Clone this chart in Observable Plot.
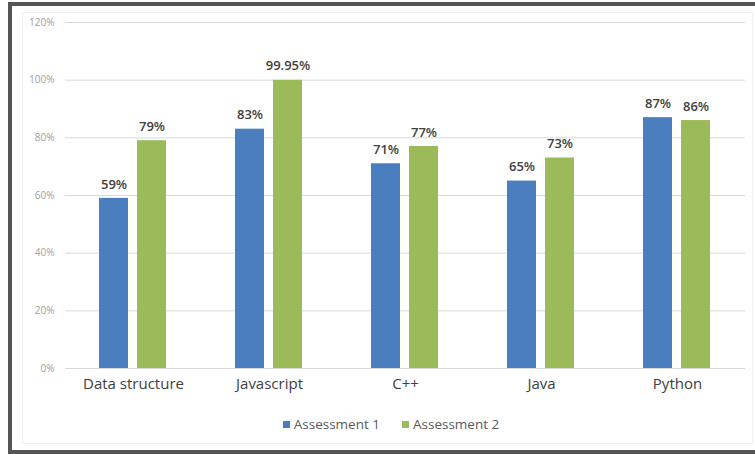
<!DOCTYPE html>
<html>
<head>
<meta charset="utf-8">
<script src="https://cdn.jsdelivr.net/npm/d3@7"></script>
<script src="https://cdn.jsdelivr.net/npm/@observablehq/plot@0.6"></script>
<style>
  html, body { margin: 0; padding: 0; background: #fff; overflow: hidden; }
  #wrap { position: relative; width: 755px; height: 454px; overflow: hidden; font-family: "Open Sans", sans-serif; }
  #frame { position: absolute; left: 8px; top: 2px; width: 800px; height: 452px; box-sizing: border-box;
           border-left: 4px solid #555; border-top: 4px solid #555; border-bottom: 4px solid #555; }
  #inner { position: absolute; left: 22px; top: 12px; width: 731px; height: 432px; box-sizing: border-box; border: 1px solid #f0f0f0; }
  #chart { position: absolute; left: 0; top: 0; }
  #legend { position: absolute; left: 0; top: 415px; width: 782px; display: flex; justify-content: center; gap: 22px;
            font-size: 13.5px; color: #595959; }
  .item { display: flex; align-items: center; gap: 4px; }
  .sw { width: 7px; height: 7px; display: inline-block; }
</style>
</head>
<body>
<div id="wrap">
  <div id="frame"></div>
  <div id="inner"></div>
  <div id="chart"></div>
  <div id="legend"></div>
</div>
<script>
const categories = ["Data structure", "Javascript", "C++", "Java", "Python"];
const seriesNames = ["Assessment 1", "Assessment 2"];
const assessment1 = [59, 83, 71, 65, 87];
const assessment2 = [79, 99.95, 77, 73, 86];
const yTicks = [0, 20, 40, 60, 80, 100, 120];
const colors = ["#4a7ebf", "#9bbb59"];

const data = [];
categories.forEach((c, i) => {
  data.push({category: c, series: seriesNames[0], value: assessment1[i]});
  data.push({category: c, series: seriesNames[1], value: assessment2[i]});
});

const chart = Plot.plot({
  width: 755,
  height: 400,
  marginLeft: 64,
  marginRight: 9,
  marginTop: 22,
  marginBottom: 32,
  style: {fontFamily: "Open Sans, sans-serif", background: "transparent"},
  fx: {domain: categories, padding: 0, label: null},
  x: {domain: seriesNames, paddingInner: 0.2308, paddingOuter: 0.864, axis: null},
  y: {domain: [0, 120], label: null},
  color: {domain: seriesNames, range: colors},
  marks: [
    Plot.gridY(yTicks, {stroke: "#d9d9d9", strokeOpacity: 1}),
    Plot.axisY(yTicks, {tickSize: 0, tickPadding: 11, tickFormat: d => d + "%", fontSize: 10, fill: "#a0a0a0", label: null}),
    Plot.axisFx({anchor: "bottom", tickSize: 0, tickPadding: 10, fontSize: 15, fill: "#404040", label: null}),
    Plot.barY(data, {fx: "category", x: "series", y: "value", fill: "series"}),
    Plot.text(data, {fx: "category", x: "series", y: "value", text: d => d.value + "%", dy: -14,
                     fontSize: 13, fontWeight: 600, fill: "#404040"})
  ]
});
document.getElementById("chart").appendChild(chart);

const legend = document.getElementById("legend");
seriesNames.forEach((s, i) => {
  const it = document.createElement("span");
  it.className = "item";
  const sw = document.createElement("span");
  sw.className = "sw";
  sw.style.background = colors[i];
  it.appendChild(sw);
  it.appendChild(document.createTextNode(s));
  legend.appendChild(it);
});
</script>
</body>
</html>
